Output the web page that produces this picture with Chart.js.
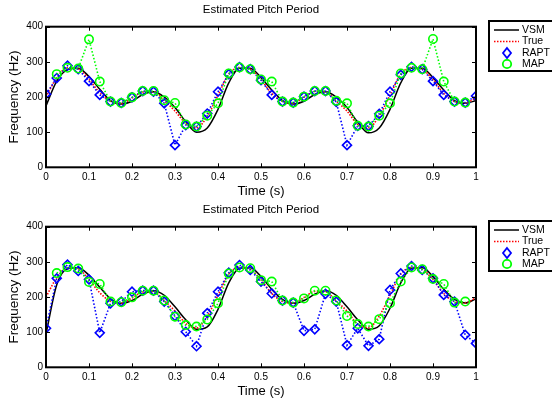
<!DOCTYPE html>
<html>
<head>
<meta charset="utf-8">
<script src="https://cdn.jsdelivr.net/npm/chart.js@4/dist/chart.umd.min.js"></script>
<style>
  body { margin: 0; background: #fff; }
  canvas { position: absolute; left: 0; }
  #topChart { top: 0; }
  #bottomChart { top: 200px; }
</style>
</head>
<body>
<canvas id="topChart" width="552" height="200"></canvas>
<canvas id="bottomChart" width="552" height="200"></canvas>
<script>
// time axis, one sample every 25 ms
var timeSec = [0, 0.025, 0.05, 0.075, 0.1, 0.125, 0.15, 0.175, 0.2, 0.225,
    0.25, 0.275, 0.3, 0.325, 0.35, 0.375, 0.4, 0.425, 0.45, 0.475,
    0.5, 0.525, 0.55, 0.575, 0.6, 0.625, 0.65, 0.675, 0.7, 0.725,
    0.75, 0.775, 0.8, 0.825, 0.85, 0.875, 0.9, 0.925, 0.95, 0.975, 1];

var xTickLabels = ['0', '0.1', '0.2', '0.3', '0.4', '0.5', '0.6', '0.7', '0.8', '0.9', '1'];
var yTickLabels = ['0', '100', '200', '300', '400'];

// true pitch (same in both panels)
var trueHz = [200, 255, 283, 280, 250, 212, 188, 182, 197, 214,
    215, 190, 160, 125, 112, 145, 205, 265, 284, 279,
    249, 210, 187, 183, 199, 216, 215, 188, 160, 122,
    113, 146, 205, 265, 284, 279, 249, 210, 187, 183, 198];

// top panel
var topVsm = [175, 245, 278, 282, 258, 222, 190, 180, 188, 207,
    215, 200, 170, 130, 100, 112, 165, 240, 282, 282,
    255, 220, 190, 180, 188, 207, 215, 200, 170, 128,
    98, 112, 165, 240, 282, 282, 255, 220, 190, 182, 190];
var topRapt = [208, 254, 289, 279, 245, 206, 187, 183, 199, 217,
    215, 182, 63, 120, 116, 153, 215, 265, 285, 279,
    248, 206, 187, 184, 201, 217, 217, 186, 63, 118,
    117, 152, 215, 263, 286, 279, 245, 206, 187, 184, 203];
var topMap = [null, 265, 283, 281, 364, 244, 187, 183, 199, 217,
    217, 191, 183, 122, 116, 147, 182, 267, 284, 279,
    250, 244, 187, 184, 201, 217, 217, 189, 182, 118,
    116, 147, 182, 267, 283, 279, 365, 244, 187, 184, null];

// bottom panel
var bottomVsm = [95, 235, 280, 283, 262, 228, 195, 182, 190, 208,
    218, 205, 172, 135, 108, 115, 165, 240, 282, 283,
    258, 222, 193, 182, 190, 208, 218, 205, 172, 135,
    108, 118, 168, 240, 282, 283, 258, 222, 193, 183, 195];
var bottomRapt = [111, 253, 292, 274, 250, 98, 182, 187, 215, 218,
    218, 187, 146, 101, 60, 154, 215, 269, 291, 277,
    244, 210, 190, 184, 104, 108, 209, 187, 63, 111,
    61, 80, 220, 267, 288, 277, 253, 206, 187, 92, 68];
var bottomMap = [null, 268, 285, 281, 243, 237, 187, 185, 199, 218,
    218, 190, 144, 120, 116, 136, 182, 267, 284, 282,
    248, 244, 190, 184, 196, 218, 218, 190, 146, 123,
    116, 137, 182, 244, 284, 279, 251, 237, 184, 187, null];

var FONT = 'Liberation Sans, Arial, Helvetica, sans-serif';

function pairs(ys) {
    return timeSec.map(function (t, i) { return { x: t, y: ys[i] }; });
}

// matlab style box with inward ticks + the legend box
var axesBoxPlugin = {
    id: 'axesBox',
    afterDatasetsDraw: function (chart) {
        var ctx = chart.ctx;
        var a = chart.chartArea;
        var xs = chart.scales.x, ys = chart.scales.y;
        ctx.save();
        ctx.strokeStyle = '#000';
        ctx.lineWidth = 1;
        ctx.beginPath();
        xs.ticks.forEach(function (tk) {
            var px = Math.round(xs.getPixelForValue(tk.value)) + 0.5;
            ctx.moveTo(px, a.bottom); ctx.lineTo(px, a.bottom - 4);
            ctx.moveTo(px, a.top); ctx.lineTo(px, a.top + 4);
        });
        ys.ticks.forEach(function (tk) {
            var py = Math.round(ys.getPixelForValue(tk.value)) + 0.5;
            ctx.moveTo(a.left, py); ctx.lineTo(a.left + 4, py);
            ctx.moveTo(a.right, py); ctx.lineTo(a.right - 4, py);
        });
        ctx.stroke();
        ctx.lineWidth = 2;
        ctx.strokeRect(a.left, a.top, a.right - a.left, a.bottom - a.top);
        ctx.restore();
    },
    afterDraw: function (chart) {
        var ctx = chart.ctx;
        var bx = 489, by = 21, bw = 70, bh = 50;
        var rows = [30, 41.5, 53, 64];
        ctx.save();
        ctx.fillStyle = '#fff';
        ctx.fillRect(bx, by, bw, bh);
        ctx.strokeStyle = '#000';
        ctx.lineWidth = 2;
        ctx.strokeRect(bx, by, bw, bh);

        ctx.lineWidth = 1.5;
        ctx.beginPath();
        ctx.moveTo(494, rows[0]); ctx.lineTo(519, rows[0]);
        ctx.stroke();

        ctx.strokeStyle = '#ff0000';
        ctx.setLineDash([1.5, 1.5]);
        ctx.beginPath();
        ctx.moveTo(494, rows[1]); ctx.lineTo(519, rows[1]);
        ctx.stroke();
        ctx.setLineDash([]);

        ctx.strokeStyle = '#0000ff';
        ctx.lineWidth = 1.8;
        ctx.beginPath();
        ctx.moveTo(507, rows[2] - 5); ctx.lineTo(511, rows[2]);
        ctx.lineTo(507, rows[2] + 5); ctx.lineTo(503, rows[2]);
        ctx.closePath();
        ctx.stroke();

        ctx.strokeStyle = '#00ff00';
        ctx.beginPath();
        ctx.arc(507, rows[3], 4.2, 0, Math.PI * 2);
        ctx.stroke();

        ctx.fillStyle = '#000';
        ctx.font = '10.5px ' + FONT;
        ctx.textBaseline = 'middle';
        ctx.textAlign = 'left';
        ['VSM', 'True', 'RAPT', 'MAP'].forEach(function (s, i) {
            ctx.fillText(s, 522, rows[i]);
        });
        ctx.restore();
    }
};

function makePanel(canvasId, vsm, rapt, map) {
    var ctx = document.getElementById(canvasId).getContext('2d');
    return new Chart(ctx, {
        type: 'line',
        data: {
            datasets: [{
                label: 'VSM',
                data: pairs(vsm),
                borderColor: '#000000',
                borderWidth: 1.5,
                pointRadius: 0,
                cubicInterpolationMode: 'monotone',
                order: 4
            }, {
                label: 'True',
                data: pairs(trueHz),
                borderColor: '#ff0000',
                borderWidth: 1.6,
                borderDash: [1.5, 1.5],
                pointRadius: 0,
                cubicInterpolationMode: 'monotone',
                order: 3
            }, {
                label: 'RAPT',
                data: pairs(rapt),
                borderColor: '#0000ff',
                borderWidth: 1.6,
                borderDash: [1.5, 2],
                pointStyle: 'rectRot',
                pointRadius: 4.5,
                pointBorderWidth: 1.6,
                pointBackgroundColor: 'rgba(0,0,0,0)',
                pointBorderColor: '#0000ff',
                tension: 0,
                order: 2
            }, {
                label: 'MAP',
                data: pairs(map),
                borderColor: '#00ff00',
                borderWidth: 1.6,
                borderDash: [1.5, 2],
                pointStyle: 'circle',
                pointRadius: 4.2,
                pointBorderWidth: 1.6,
                pointBackgroundColor: 'rgba(0,0,0,0)',
                pointBorderColor: '#00ff00',
                tension: 0,
                order: 1
            }]
        },
        options: {
            responsive: false,
            animation: false,
            devicePixelRatio: 1,
            layout: { padding: { left: 0, right: 76, top: 0, bottom: 0 } },
            plugins: {
                legend: { display: false },
                tooltip: { enabled: false },
                title: {
                    display: true,
                    text: 'Estimated Pitch Period',
                    fullSize: false,
                    color: '#000',
                    font: { family: FONT, size: 11.5, weight: 'normal', lineHeight: 1.2 },
                    padding: { top: 3.1, bottom: 9.8 }
                }
            },
            scales: {
                x: {
                    type: 'linear',
                    min: 0,
                    max: 1,
                    grid: { display: false, drawTicks: false },
                    border: { display: false },
                    ticks: {
                        stepSize: 0.1,
                        autoSkip: false,
                        maxRotation: 0,
                        padding: 4,
                        color: '#000',
                        font: { family: FONT, size: 10 },
                        callback: function (v, i) { return xTickLabels[i]; }
                    },
                    title: {
                        display: true,
                        text: 'Time (s)',
                        color: '#000',
                        font: { family: FONT, size: 13, lineHeight: 1 },
                        padding: { top: 0, bottom: 2.5 }
                    },
                    afterFit: function (scale) { scale.height = 200 - 167.3; }
                },
                y: {
                    type: 'linear',
                    min: 0,
                    max: 400,
                    grid: { display: false, drawTicks: false },
                    border: { display: false },
                    ticks: {
                        stepSize: 100,
                        padding: 3,
                        color: '#000',
                        font: { family: FONT, size: 10 },
                        callback: function (v, i) { return yTickLabels[i]; }
                    },
                    title: {
                        display: true,
                        text: 'Frequency (Hz)',
                        color: '#000',
                        font: { family: FONT, size: 13.5, lineHeight: 1 },
                        padding: { top: 8, bottom: 0 }
                    },
                    afterFit: function (scale) { scale.width = 46; }
                }
            }
        },
        plugins: [axesBoxPlugin]
    });
}

makePanel('topChart', topVsm, topRapt, topMap);
makePanel('bottomChart', bottomVsm, bottomRapt, bottomMap);
</script>
</body>
</html>
